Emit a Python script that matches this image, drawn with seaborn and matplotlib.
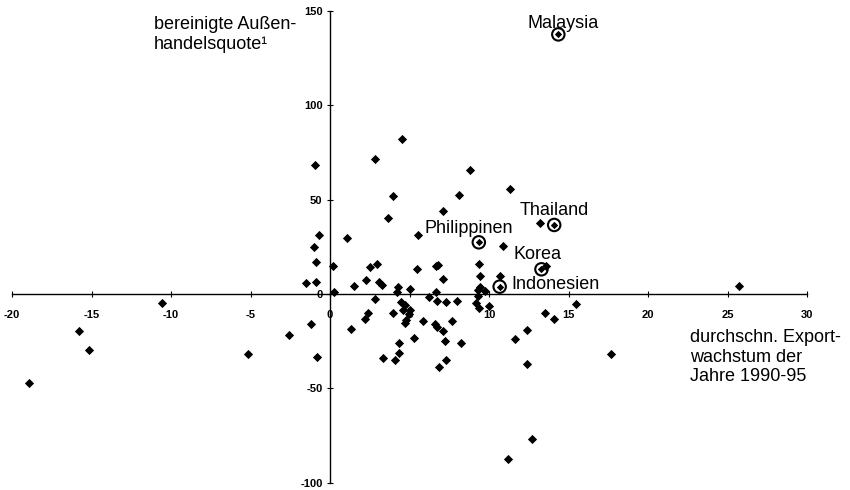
import matplotlib
matplotlib.use("Agg")
import matplotlib.pyplot as plt
import pandas as pd
import seaborn as sns

# Durchschnittliches Exportwachstum 1990-95 (%) je Land
export_growth = [
    -18.96, -15.77, -15.16, -10.55, -5.16, -2.58, -1.19, -0.80, -0.96, -0.71,
    -0.99, -0.90, -0.86, -1.49,
    0.21, 0.23, 1.09, 1.49, 2.28, 2.49, 2.98, 3.08, 3.29, 2.85,
    4.55, 3.96, 3.67, 4.28, 4.19, 5.05, 5.53, 5.45, 6.65, 6.81,
    7.13, 7.13, 6.65, 8.11, 8.81, 9.39, 9.41, 9.41, 9.30, 9.75,
    10.69, 10.90, 11.30, 13.21, 13.58, 25.72,
    2.81, 1.30, 2.18, 2.39, 3.35, 4.07, 4.34, 4.34, 3.98, 4.44,
    4.72, 4.60, 5.05, 4.97, 4.76, 4.72, 5.28, 5.85, 6.23, 6.75,
    7.32, 8.00, 6.60, 6.71, 7.11, 7.65, 7.21, 8.22, 7.32, 6.86,
    9.33, 9.20, 9.37, 10.00, 13.50, 14.09, 15.45, 12.37, 11.61, 12.37,
    17.65, 12.68, 11.19,
]

# Bereinigte Außenhandelsquote je Land
trade_ratio = [
    -47.3, -19.4, -29.7, -4.9, -32.0, -21.9, -16.1, -33.2, 68.2, 31.3,
    24.9, 16.8, 6.5, 5.8,
    14.8, 1.2, 29.7, 4.4, 7.6, 14.3, 16.1, 6.2, 4.8, 71.5,
    82.1, 51.8, 40.3, 3.9, 0.9, 2.8, 31.3, 13.4, 15.0, 15.5,
    43.8, 7.8, 1.2, 52.3, 65.5, 15.7, 9.7, 3.9, 2.3, 1.8,
    9.7, 25.6, 55.6, 37.8, 15.0, 4.2,
    -2.7, -18.4, -13.4, -10.2, -33.7, -35.0, -26.1, -31.4, -10.1, -4.1,
    -5.8, -8.3, -8.7, -10.6, -13.8, -15.5, -23.2, -14.1, -1.75, -3.7,
    -4.2, -3.9, -16.1, -17.3, -19.4, -14.3, -24.9, -26.1, -35.0, -38.9,
    -1.1, -4.9, -7.6, -6.5, -10.2, -13.4, -5.5, -19.1, -24.0, -37.1,
    -31.8, -76.8, -87.4,
]

# Hervorgehobene Länder
named_countries = ["Malaysia", "Thailand", "Philippinen", "Korea", "Indonesien"]
named_growth = [14.36, 14.10, 9.36, 13.30, 10.67]
named_ratio = [137.6, 36.6, 27.4, 13.1, 3.9]

x_ticks = [-20, -15, -10, -5, 0, 5, 10, 15, 20, 25, 30]
y_ticks = [-100, -50, 0, 50, 100, 150]

y_title = "bereinigte Außen-\nhandelsquote\u00b9"
x_title = "durchschn. Export-\nwachstum der\nJahre 1990-95"

# Beschriftungsversatz (Punkte) und Ausrichtung je hervorgehobenem Land
label_layout = {
    "Malaysia": ((3.2, 4.3), "center"),
    "Thailand": ((0.4, 7.2), "center"),
    "Philippinen": ((-7.6, 6.9), "center"),
    "Korea": ((-2.7, 7.2), "center"),
    "Indonesien": ((8.4, -1.9), "left"),
}

sns.set_theme(style="white")
plt.rcParams["font.family"] = ["Liberation Sans", "DejaVu Sans"]
plt.rcParams["axes.unicode_minus"] = False

fig = plt.figure(figsize=(8.5, 4.9), dpi=100)
ax = fig.add_axes([12 / 850, 1 - 482.7 / 490, 795 / 850, 471.7 / 490])
ax.set_facecolor("white")

points = pd.DataFrame({"growth": export_growth, "ratio": trade_ratio})
named = pd.DataFrame({"land": named_countries, "growth": named_growth,
                      "ratio": named_ratio})

sns.scatterplot(data=points, x="growth", y="ratio", marker="D", s=22,
                color="black", linewidth=0, ax=ax, clip_on=False, zorder=3)
sns.scatterplot(data=named, x="growth", y="ratio", marker="o", s=80,
                color="black", facecolor="none", edgecolor="black",
                linewidth=1.5, ax=ax, clip_on=False, zorder=3)
sns.scatterplot(data=named, x="growth", y="ratio", marker="D", s=14,
                color="black", linewidth=0, ax=ax, clip_on=False, zorder=4)

for land, gx, gy in zip(named_countries, named_growth, named_ratio):
    offset, ha = label_layout[land]
    ax.annotate(land, (gx, gy), xytext=offset, textcoords="offset points",
                ha=ha, va="baseline", fontsize=13, color="black")

ax.set_xlim(-20, 30)
ax.set_ylim(-100, 150)
ax.set_xticks(x_ticks)
ax.set_yticks(y_ticks)
ax.set_xticklabels([str(t) for t in x_ticks])
ax.set_yticklabels([str(t) for t in y_ticks])
ax.set_xlabel("")
ax.set_ylabel("")

for side in ("top", "right"):
    ax.spines[side].set_visible(False)
for side in ("left", "bottom"):
    ax.spines[side].set_position(("data", 0))
    ax.spines[side].set_color("black")
    ax.spines[side].set_linewidth(1.0)

ax.tick_params(axis="both", direction="inout", length=4.3, width=0.8,
               colors="black", labelsize=8)
ax.tick_params(axis="x", pad=9.0, bottom=True)
ax.tick_params(axis="y", pad=3.2, left=True)
for lbl in ax.get_xticklabels() + ax.get_yticklabels():
    lbl.set_fontweight("bold")

fig.text(154 / 850, 1 - 16 / 490, y_title, ha="left", va="top",
         fontsize=13, color="black", linespacing=1.2)
fig.text(690 / 850, 1 - 329 / 490, x_title, ha="left", va="top",
         fontsize=13, color="black", linespacing=1.2)

fig.savefig("out.png", dpi=100, facecolor="white")
